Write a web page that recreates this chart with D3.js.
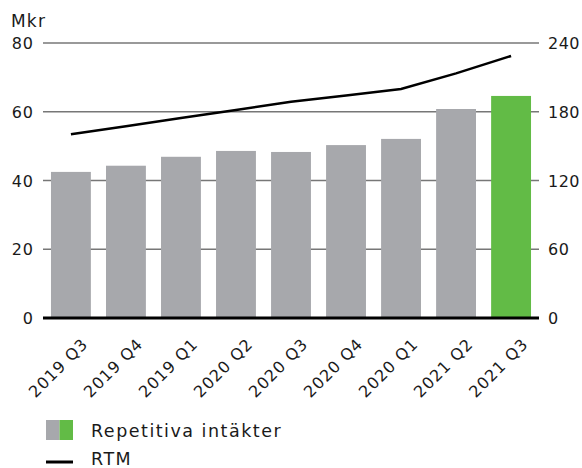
<!DOCTYPE html>
<html>
<head>
    <meta charset="utf-8">
    <title>Repetitiva intäkter</title>
    <style>
        body { margin: 0; background: #fff; }
        svg text { font-family: "DejaVu Sans", sans-serif; fill: #1a1a1a; }
    </style>
</head>
<body>
    <div id="chart"></div>
    <script src="https://d3js.org/d3.v7.min.js"></script>
    <script>
        // data
        const quarters = ['2019 Q3', '2019 Q4', '2019 Q1', '2020 Q2', '2020 Q3', '2020 Q4', '2020 Q1', '2021 Q2', '2021 Q3'];
        const revenue = [42.5, 44.3, 46.9, 48.6, 48.3, 50.3, 52.1, 60.8, 64.6];
        const rtm = [160.3, 167.4, 174.5, 181.6, 188.7, 194.2, 199.9, 213.5, 228.7];
        const leftTicks = [0, 20, 40, 60, 80];
        const rightTicks = [0, 60, 120, 180, 240];

        const width = 582, height = 468;
        const plotLeft = 43, plotRight = 539, plotTop = 43, plotBottom = 318;

        const svg = d3.select('#chart').append('svg')
            .attr('width', width)
            .attr('height', height);

        const x = d3.scaleBand()
            .domain(quarters)
            .range([plotLeft, plotRight])
            .paddingInner(0.275)
            .paddingOuter(0.145);

        const yL = d3.scaleLinear().domain([0, 80]).range([plotBottom, plotTop]);
        const yR = d3.scaleLinear().domain([0, 240]).range([plotBottom, plotTop]);

        // gridlines
        svg.append('g')
            .selectAll('line')
            .data(leftTicks.filter(d => d > 0))
            .enter()
            .append('line')
            .attr('x1', plotLeft)
            .attr('x2', plotRight)
            .attr('y1', d => yL(d))
            .attr('y2', d => yL(d))
            .style('stroke', '#777')
            .style('stroke-width', 1.5);

        // bars
        svg.append('g')
            .selectAll('rect')
            .data(revenue)
            .enter()
            .append('rect')
            .attr('x', (d, i) => x(quarters[i]))
            .attr('width', x.bandwidth())
            .attr('y', d => yL(d))
            .attr('height', d => plotBottom - yL(d))
            .style('fill', (d, i) => i === revenue.length - 1 ? '#62bb46' : '#a7a8ac');

        // baseline
        svg.append('line')
            .attr('x1', plotLeft).attr('x2', plotRight)
            .attr('y1', plotBottom).attr('y2', plotBottom)
            .style('stroke', '#000')
            .style('stroke-width', 3);

        // RTM line
        const line = d3.line()
            .x((d, i) => x(quarters[i]) + x.bandwidth() / 2)
            .y(d => yR(d));

        svg.append('path')
            .datum(rtm)
            .attr('d', line)
            .style('fill', 'none')
            .style('stroke', '#000')
            .style('stroke-width', 2.5);

        // left axis labels
        svg.append('g')
            .selectAll('text')
            .data(leftTicks)
            .enter()
            .append('text')
            .attr('x', 34)
            .attr('y', d => yL(d) + 6)
            .attr('text-anchor', 'end')
            .style('font-size', '16px')
            .style('letter-spacing', '1px')
            .text(d => d);

        // right axis labels
        svg.append('g')
            .selectAll('text')
            .data(rightTicks)
            .enter()
            .append('text')
            .attr('x', 548)
            .attr('y', d => yR(d) + 6)
            .style('font-size', '16px')
            .style('letter-spacing', '0.5px')
            .text(d => d);

        // unit
        svg.append('text')
            .attr('x', 11)
            .attr('y', 27)
            .style('font-size', '17px')
            .style('letter-spacing', '1.2px')
            .text('Mkr');

        // x labels
        svg.append('g')
            .selectAll('text')
            .data(quarters)
            .enter()
            .append('text')
            .attr('transform', d => `translate(${x(d) + x.bandwidth() / 2 + 18},${plotBottom + 27}) rotate(-45)`)
            .attr('text-anchor', 'end')
            .style('font-size', '16px')
            .style('letter-spacing', '1px')
            .text(d => d);

        // legend
        const legend = svg.append('g');
        legend.append('rect')
            .attr('x', 46).attr('y', 420).attr('width', 13.5).attr('height', 20)
            .style('fill', '#a7a8ac');
        legend.append('rect')
            .attr('x', 59.5).attr('y', 420).attr('width', 13.5).attr('height', 20)
            .style('fill', '#62bb46');
        legend.append('text')
            .attr('x', 91).attr('y', 437)
            .style('font-size', '17.5px')
            .style('letter-spacing', '1.5px')
            .text('Repetitiva intäkter');
        legend.append('line')
            .attr('x1', 46).attr('x2', 73)
            .attr('y1', 462).attr('y2', 462)
            .style('stroke', '#000')
            .style('stroke-width', 3);
        legend.append('text')
            .attr('x', 91).attr('y', 465)
            .style('font-size', '17.5px')
            .style('letter-spacing', '1.5px')
            .text('RTM');
    </script>
</body>
</html>
